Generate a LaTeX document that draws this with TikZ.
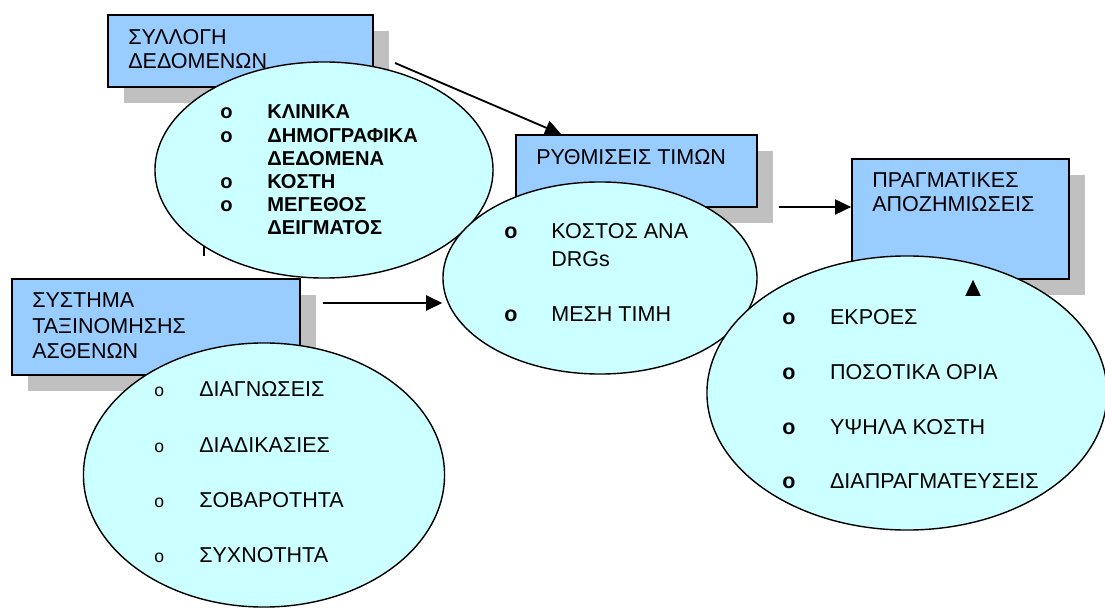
\documentclass[tikz,border=0pt]{standalone}
\usepackage{fontspec}
\setmainfont{Liberation Sans}
\usetikzlibrary{shapes.geometric,arrows.meta,shadows,calc}
\definecolor{boxblue}{HTML}{99CCFF}
\definecolor{bubblecyan}{HTML}{CCFFFF}
\definecolor{shadowgray}{HTML}{C0C0C0}
\newcommand{\bul}{\textbf{o}}
\newcommand{\thinbul}{{\fontsize{12.5}{12.5}\selectfont o}}

\begin{document}
\begin{tikzpicture}[x=0.025cm, y=-0.025cm,
    box/.style={draw, line width=1.2pt, fill=boxblue, inner sep=0pt,
        drop shadow={shadow xshift=0.4cm, shadow yshift=-0.4cm, fill=shadowgray, opacity=1}},
    bubble/.style={draw, ellipse, line width=1pt, fill=bubblecyan, inner sep=0pt},
    txt/.style={anchor=base west, inner sep=0pt, font=\fontsize{15.3}{17}\selectfont},
    link/.style={line width=1.3pt, -{Triangle[length=11.4pt, width=10.7pt]}}]
    \useasboundingbox (0,0) rectangle (1105,609);

    % the four boxes
    \node[box, minimum width=6.625cm, minimum height=1.8cm] (dat) at (240.5, 51) {};
    \node[txt] (dattxt) at (128, 45) {\begin{tabular}[t]{@{}l@{}}ΣΥΛΛΟΓΗ\\ΔΕΔΟΜΕΝΩΝ\end{tabular}};
    \node[box, minimum width=6.025cm, minimum height=1.8cm] (rtm) at (636.5, 171) {};
    \node[txt] (rtmtxt) at (536, 165) {ΡΥΘΜΙΣΕΙΣ ΤΙΜΩΝ};
    \node[box, minimum width=5.425cm, minimum height=3cm] (apz) at (960.5, 219) {};
    \node[txt] (apztxt) at (872, 188) {\begin{tabular}[t]{@{}l@{}}ΠΡΑΓΜΑΤΙΚΕΣ\\ΑΠΟΖΗΜΙΩΣΕΙΣ\end{tabular}};
    \node[box, minimum width=7.2cm, minimum height=2.4cm] (sts) at (156, 327) {};
    \node[txt, font=\fontsize{15.3}{17.8}\selectfont] (ststxt) at (32, 308) {\begin{tabular}[t]{@{}l@{}}ΣΥΣΤΗΜΑ\\ΤΑΞΙΝΟΜΗΣΗΣ\\ΑΣΘΕΝΩΝ\end{tabular}};

    \coordinate (tick) at (204, 256);
    \draw[line width=1.3pt] (tick) -- ++(0, -60);

    % the ellipses
    \node[bubble, minimum width=8.45cm, minimum height=5.4cm] (edat) at (324, 170) {};
    \node[txt, font=\bfseries\fontsize{14.3}{16.4}\selectfont] (edattxt) at (220, 119) {\begin{tabular}[t]{@{}p{33.5pt}@{}l@{}}
        o & ΚΛΙΝΙΚΑ\\
        o & ΔΗΜΟΓΡΑΦΙΚΑ\\
          & ΔΕΔΟΜΕΝΑ\\
        o & ΚΟΣΤΗ\\
        o & ΜΕΓΕΘΟΣ\\
          & ΔΕΙΓΜΑΤΟΣ
    \end{tabular}};
    \node[bubble, minimum width=7.85cm, minimum height=4.8cm] (ertm) at (600, 278) {};
    \node[txt, font=\fontsize{15.3}{19.6}\selectfont] (ertmtxt) at (504, 239) {\begin{tabular}[t]{@{}p{33.5pt}@{}l@{}}
        \bul & ΚΟΣΤΟΣ ΑΝΑ\\
             & DRGs\\[19.6pt]
        \bul & ΜΕΣΗ ΤΙΜΗ
    \end{tabular}};
    \node[bubble, minimum width=10cm, minimum height=6.85cm] (eapz) at (907, 393) {};
    \node[txt, font=\fontsize{15.3}{19.4}\selectfont] (eapztxt) at (782, 325) {\begin{tabular}[t]{@{}p{34pt}@{}l@{}}
        \bul & ΕΚΡΟΕΣ\\[19.4pt]
        \bul & ΠΟΣΟΤΙΚΑ ΟΡΙΑ\\[19.4pt]
        \bul & ΥΨΗΛΑ ΚΟΣΤΗ\\[19.4pt]
        \bul & ΔΙΑΠΡΑΓΜΑΤΕΥΣΕΙΣ
    \end{tabular}};
    \node[bubble, minimum width=9.025cm, minimum height=6.6cm] (ests) at (264, 475) {};
    \node[txt, font=\fontsize{15.3}{19.6}\selectfont] (eststxt) at (154, 397) {\begin{tabular}[t]{@{}p{32pt}@{}l@{}}
        \thinbul & ΔΙΑΓΝΩΣΕΙΣ\\[19.6pt]
        \thinbul & ΔΙΑΔΙΚΑΣΙΕΣ\\[19.6pt]
        \thinbul & ΣΟΒΑΡΟΤΗΤΑ\\[19.6pt]
        \thinbul & ΣΥΧΝΟΤΗΤΑ
    \end{tabular}};

    % arrows
    \coordinate (datout) at (395, 63);
    \coordinate (rtmout) at (779, 207);
    \coordinate (stsout) at (323, 303);
    \coordinate (apzin) at (973, 296);
    \draw[link] (datout) -- ($(rtm.north west)+(46, 0)$);
    \draw[link] (rtmout) -- (rtmout -| apz.west);
    \draw[link] (stsout) -- (stsout -| ertm.west);
    \draw[link] (apzin) -- (apzin |- apz.south);
\end{tikzpicture}
\end{document}
